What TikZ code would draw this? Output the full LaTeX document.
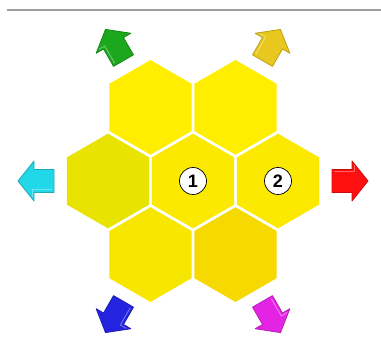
\documentclass[tikz,border=0pt]{standalone}
\usepackage{fontspec}
\newfontfamily\labfont{Liberation Sans}
\usetikzlibrary{shapes.geometric}
\definecolor{hexA}{HTML}{FFEE00}
\definecolor{hexB}{HTML}{FBEA00}
\definecolor{hexW}{HTML}{E8E300}
\definecolor{hexSW}{HTML}{F6E600}
\definecolor{hexSE}{HTML}{F6D900}
\definecolor{arGreen}{HTML}{1CA81C}
\definecolor{arGold}{HTML}{E8C81E}
\definecolor{arCyan}{HTML}{22D8E8}
\definecolor{arRed}{HTML}{FF1010}
\definecolor{arBlue}{HTML}{2424E0}
\definecolor{arMag}{HTML}{E424E4}
\tikzset{
  hexcell/.style={regular polygon, regular polygon sides=6, shape border rotate=30,
    minimum size=94.7pt, inner sep=0pt, draw=none, fill=#1},
  numlabel/.style={circle, draw=black, line width=0.7pt, fill=white, minimum size=27pt,
    inner sep=0pt, font=\labfont\bfseries\fontsize{18}{18}\selectfont},
  arrowbody/.style={fill=#1, draw=#1!80!black, line width=0.8pt, line join=round},
  pics/blockarrow/.style 2 args={code={
    \path[arrowbody=#2, rotate=#1]
      (-18,-11.5) -- (2,-11.5) -- (2,-20) -- (18,0) -- (2,20) -- (2,11.5) -- (-18,11.5) -- cycle;
    \path[draw=white, opacity=0.35, line width=1pt, rotate=#1]
      (-16,-9) -- (4,-9) -- (4,-16);
  }}
}
\begin{document}
\begin{tikzpicture}[x=1pt,y=-1pt]
\useasboundingbox (0,0) rectangle (381,350);
\fill[white] (0,0) rectangle (381,350);
% top rule
\coordinate (ruleL) at (7,10);
\coordinate (ruleR) at (381,10);
\draw[line width=2pt, color=black!38] (ruleL) -- (ruleR);
% hexagons
\node[hexcell=hexA] (hNW) at (150.5,107.4) {};
\node[hexcell=hexA] (hNE) at (235.5,107.4) {};
\node[hexcell=hexW] (hW) at (108,181) {};
\node[hexcell=hexB] (hC) at (193,181) {};
\node[hexcell=hexB] (hE) at (278,181) {};
\node[hexcell=hexSW] (hSW) at (150.5,254.6) {};
\node[hexcell=hexSE] (hSE) at (235.5,254.6) {};
% labels
\node[numlabel] (n1) at (hC) {1};
\node[numlabel] (n2) at (hE) {2};
% direction arrows
\pic (aE) at (350,181) {blockarrow={0}{arRed}};
\pic (aW) at (36,181) {blockarrow={180}{arCyan}};
\pic (aNW) at (114.5,45) {blockarrow={120}{arGreen}};
\pic (aNE) at (271.5,45) {blockarrow={60}{arGold}};
\pic (aSW) at (114.5,317) {blockarrow={240}{arBlue}};
\pic (aSE) at (271.5,317) {blockarrow={300}{arMag}};
\end{tikzpicture}
\end{document}
